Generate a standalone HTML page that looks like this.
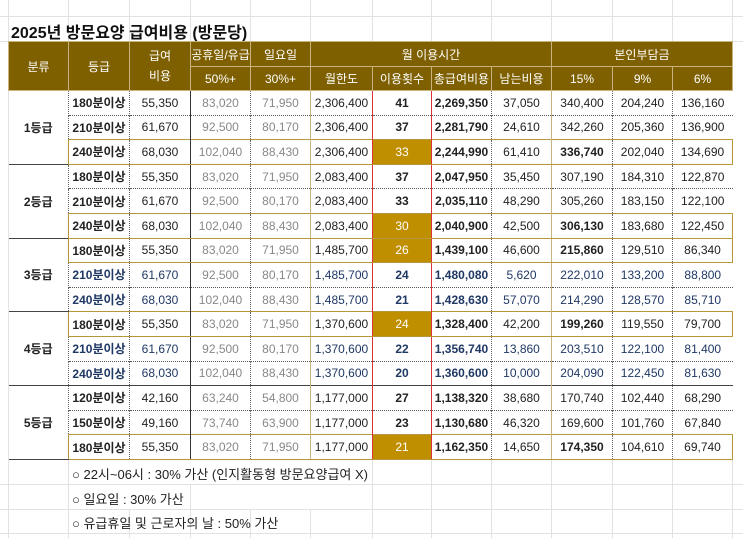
<!DOCTYPE html>
<html><head><meta charset="utf-8"><style>
body{margin:0;width:743px;height:538px;background:#fff;position:relative;overflow:hidden;font-family:"Liberation Sans","Noto Sans CJK KR",sans-serif;}
.gl{position:absolute;background:#e2e2e2;}
.title{position:absolute;left:11px;top:19px;font-size:16px;font-weight:bold;color:#111;}
table{position:absolute;left:8px;top:41px;border-collapse:collapse;table-layout:fixed;font-size:12px;}
td{padding:0;text-align:center;white-space:nowrap;color:#222;}
.h td{background:#7f6000;color:#fff;border:1px solid #c8b27e;}
.h1 td{height:24px;}
.h2 td{height:23px;}
.d td{height:23.6px;border-top:1px dotted #555;border-left:1px dotted #666;}
.d td.c0{border-left:none;border-top:none;font-weight:bold;}
.d td.gb{border-top:1.5px solid #444 !important;}
td.g{font-weight:bold;}
td.gy{color:#888;}
td.sol{border-left:1px solid #333 !important;}
td.gold{border-left:1px solid #c8b27e !important;}
td.red{border-left:1px solid #d33 !important;}
td.b{font-weight:bold;}
.hl td{border-top:1.5px solid #b8963c !important;border-bottom:1.5px solid #b8963c;}
.hl td:last-child{border-right:1.5px solid #b8963c;}
.hl td.c1{border-left:1.5px solid #b8963c !important;}
td.hc{background:#bf8f00;color:#fff;font-weight:normal;}
.nv td{color:#1f3864;}
.nv td.gy{color:#888;}
.note{position:absolute;left:72px;font-size:13px;color:#222;}
</style></head><body>
<div class="gl" style="left:0;top:16px;width:743px;height:1px"></div>
<div class="gl" style="left:0;top:41px;width:743px;height:1px"></div>
<div class="gl" style="left:0;top:484px;width:743px;height:1px"></div>
<div class="gl" style="left:0;top:509px;width:743px;height:1px"></div>
<div class="gl" style="left:0;top:533px;width:743px;height:1px"></div>
<div class="gl" style="left:8px;top:0;width:1px;height:538px"></div>
<div class="gl" style="left:68px;top:0;width:1px;height:41px"></div>
<div class="gl" style="left:129px;top:0;width:1px;height:41px"></div>
<div class="gl" style="left:190px;top:0;width:1px;height:41px"></div>
<div class="gl" style="left:250px;top:0;width:1px;height:41px"></div>
<div class="gl" style="left:310px;top:0;width:1px;height:41px"></div>
<div class="gl" style="left:372px;top:0;width:1px;height:41px"></div>
<div class="gl" style="left:431px;top:0;width:1px;height:41px"></div>
<div class="gl" style="left:491px;top:0;width:1px;height:41px"></div>
<div class="gl" style="left:551px;top:0;width:1px;height:41px"></div>
<div class="gl" style="left:612px;top:0;width:1px;height:41px"></div>
<div class="gl" style="left:672px;top:0;width:1px;height:41px"></div>
<div class="gl" style="left:732px;top:0;width:1px;height:41px"></div>
<div class="gl" style="left:68px;top:460px;width:1px;height:78px"></div>
<div class="gl" style="left:129px;top:509px;width:1px;height:29px"></div>
<div class="gl" style="left:190px;top:484px;width:1px;height:54px"></div>
<div class="gl" style="left:250px;top:509px;width:1px;height:29px"></div>
<div class="gl" style="left:310px;top:509px;width:1px;height:29px"></div>
<div class="gl" style="left:372px;top:460px;width:1px;height:78px"></div>
<div class="gl" style="left:431px;top:460px;width:1px;height:78px"></div>
<div class="gl" style="left:491px;top:460px;width:1px;height:78px"></div>
<div class="gl" style="left:551px;top:460px;width:1px;height:78px"></div>
<div class="gl" style="left:612px;top:460px;width:1px;height:78px"></div>
<div class="gl" style="left:672px;top:460px;width:1px;height:78px"></div>
<div class="gl" style="left:732px;top:460px;width:1px;height:78px"></div>
<div class="title">2025년 방문요양 급여비용 (방문당)</div>
<table>
<colgroup><col style="width:60px"><col style="width:61px"><col style="width:61px"><col style="width:60px"><col style="width:60px"><col style="width:62px"><col style="width:59px"><col style="width:60px"><col style="width:60px"><col style="width:61px"><col style="width:60px"><col style="width:60px"></colgroup>
<tr class="h h1" style="border-top:1.5px solid #333"><td rowspan="2">분류</td><td rowspan="2">등급</td><td rowspan="2" style="line-height:20px">급여<br>비용</td><td>공휴일/유급</td><td>일요일</td><td colspan="4">월 이용시간</td><td colspan="3">본인부담금</td></tr>
<tr class="h h2"><td>50%+</td><td>30%+</td><td>월한도</td><td>이용횟수</td><td>총급여비용</td><td>남는비용</td><td>15%</td><td>9%</td><td>6%</td></tr>

<tr class="d"><td class="c0" rowspan="3">1등급</td><td class="c1 g">180분이상</td><td>55,350</td><td class="gy sol">83,020</td><td class="gy">71,950</td><td class="gold">2,306,400</td><td class="red b">41</td><td class="red b">2,269,350</td><td>37,050</td><td class="gold">340,400</td><td>204,240</td><td>136,160</td></tr>
<tr class="d"><td class="c1 g">210분이상</td><td>61,670</td><td class="gy sol">92,500</td><td class="gy">80,170</td><td class="gold">2,306,400</td><td class="red b">37</td><td class="red b">2,281,790</td><td>24,610</td><td class="gold">342,260</td><td>205,360</td><td>136,900</td></tr>
<tr class="d hl"><td class="c1 g">240분이상</td><td>68,030</td><td class="gy sol">102,040</td><td class="gy">88,430</td><td class="gold">2,306,400</td><td class="red hc">33</td><td class="red b">2,244,990</td><td>61,410</td><td class="gold b">336,740</td><td>202,040</td><td>134,690</td></tr>

<tr class="d"><td class="c0 gb" rowspan="3">2등급</td><td class="c1 g gb">180분이상</td><td class="gb">55,350</td><td class="gy sol gb">83,020</td><td class="gy gb">71,950</td><td class="gold gb">2,083,400</td><td class="red b gb">37</td><td class="red b gb">2,047,950</td><td class="gb">35,450</td><td class="gold gb">307,190</td><td class="gb">184,310</td><td class="gb">122,870</td></tr>
<tr class="d"><td class="c1 g">210분이상</td><td>61,670</td><td class="gy sol">92,500</td><td class="gy">80,170</td><td class="gold">2,083,400</td><td class="red b">33</td><td class="red b">2,035,110</td><td>48,290</td><td class="gold">305,260</td><td>183,150</td><td>122,100</td></tr>
<tr class="d hl"><td class="c1 g">240분이상</td><td>68,030</td><td class="gy sol">102,040</td><td class="gy">88,430</td><td class="gold">2,083,400</td><td class="red hc">30</td><td class="red b">2,040,900</td><td>42,500</td><td class="gold b">306,130</td><td>183,680</td><td>122,450</td></tr>

<tr class="d hl"><td class="c0 gb" rowspan="3" style="border-bottom:none">3등급</td><td class="c1 g">180분이상</td><td>55,350</td><td class="gy sol">83,020</td><td class="gy">71,950</td><td class="gold">1,485,700</td><td class="red hc">26</td><td class="red b">1,439,100</td><td>46,600</td><td class="gold b">215,860</td><td>129,510</td><td>86,340</td></tr>
<tr class="d nv"><td class="c1 g">210분이상</td><td>61,670</td><td class="gy sol">92,500</td><td class="gy">80,170</td><td class="gold">1,485,700</td><td class="red b">24</td><td class="red b">1,480,080</td><td>5,620</td><td class="gold">222,010</td><td>133,200</td><td>88,800</td></tr>
<tr class="d nv"><td class="c1 g">240분이상</td><td>68,030</td><td class="gy sol">102,040</td><td class="gy">88,430</td><td class="gold">1,485,700</td><td class="red b">21</td><td class="red b">1,428,630</td><td>57,070</td><td class="gold">214,290</td><td>128,570</td><td>85,710</td></tr>

<tr class="d hl"><td class="c0 gb" rowspan="3" style="border-bottom:none">4등급</td><td class="c1 g">180분이상</td><td>55,350</td><td class="gy sol">83,020</td><td class="gy">71,950</td><td class="gold">1,370,600</td><td class="red hc">24</td><td class="red b">1,328,400</td><td>42,200</td><td class="gold b">199,260</td><td>119,550</td><td>79,700</td></tr>
<tr class="d nv"><td class="c1 g">210분이상</td><td>61,670</td><td class="gy sol">92,500</td><td class="gy">80,170</td><td class="gold">1,370,600</td><td class="red b">22</td><td class="red b">1,356,740</td><td>13,860</td><td class="gold">203,510</td><td>122,100</td><td>81,400</td></tr>
<tr class="d nv"><td class="c1 g">240분이상</td><td>68,030</td><td class="gy sol">102,040</td><td class="gy">88,430</td><td class="gold">1,370,600</td><td class="red b">20</td><td class="red b">1,360,600</td><td>10,000</td><td class="gold">204,090</td><td>122,450</td><td>81,630</td></tr>

<tr class="d"><td class="c0 gb" rowspan="3" style="border-bottom:1.5px solid #444">5등급</td><td class="c1 g gb">120분이상</td><td class="gb">42,160</td><td class="gy sol gb">63,240</td><td class="gy gb">54,800</td><td class="gold gb">1,177,000</td><td class="red b gb">27</td><td class="red b gb">1,138,320</td><td class="gb">38,680</td><td class="gold gb">170,740</td><td class="gb">102,440</td><td class="gb">68,290</td></tr>
<tr class="d"><td class="c1 g">150분이상</td><td>49,160</td><td class="gy sol">73,740</td><td class="gy">63,900</td><td class="gold">1,177,000</td><td class="red b">23</td><td class="red b">1,130,680</td><td>46,320</td><td class="gold">169,600</td><td>101,760</td><td>67,840</td></tr>
<tr class="d hl"><td class="c1 g">180분이상</td><td>55,350</td><td class="gy sol">83,020</td><td class="gy">71,950</td><td class="gold">1,177,000</td><td class="red hc">21</td><td class="red b">1,162,350</td><td>14,650</td><td class="gold b">174,350</td><td>104,610</td><td>69,740</td></tr>
</table>
<div class="note" style="top:464px">○ 22시~06시 : 30% 가산 (인지활동형 방문요양급여 X)</div>
<div class="note" style="top:489px">○ 일요일 : 30% 가산</div>
<div class="note" style="top:513px">○ 유급휴일 및 근로자의 날 : 50% 가산</div>
</body></html>
